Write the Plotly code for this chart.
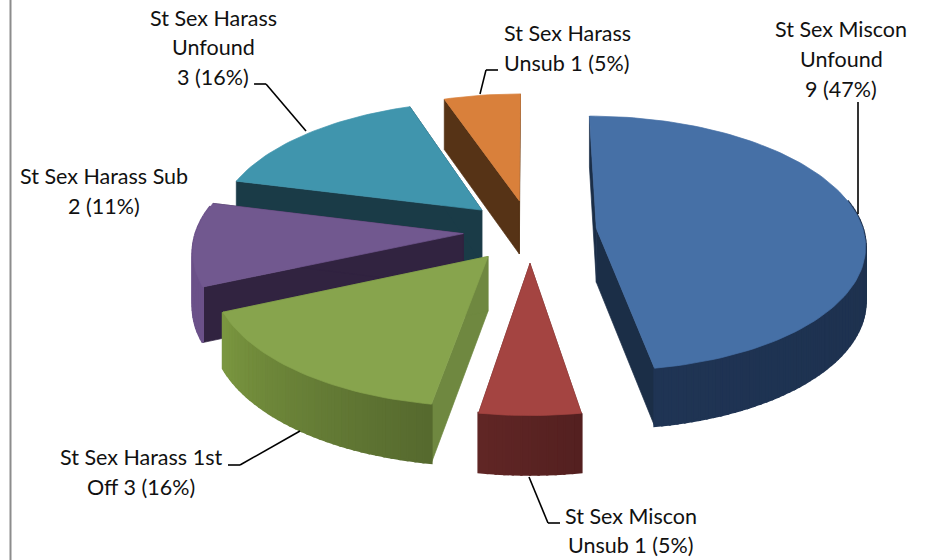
import math
import plotly.graph_objects as go

# ---- data, clockwise from twelve o'clock ----
categories = ["St Sex Miscon Unfound", "St Sex Miscon Unsub", "St Sex Harass 1st Off",
              "St Sex Harass Sub", "St Sex Harass Unfound", "St Sex Harass Unsub"]
values = [9, 1, 3, 2, 3, 1]
label_lines = [
    ["St Sex Miscon", "Unfound", "9 (47%)"],
    ["St Sex Miscon", "Unsub 1 (5%)"],
    ["St Sex Harass 1st", "Off 3 (16%)"],
    ["St Sex Harass Sub", "2 (11%)"],
    ["St Sex Harass", "Unfound", "3 (16%)"],
    ["St Sex Harass", "Unsub 1 (5%)"],
]

# ---- styles ----
top_colors = ["#4670A6", "#A44441", "#87A44D", "#71588F", "#4095AD", "#D9803B"]
cut_colors = ["#1B2E47", "#5E2423", "#6F8840", "#312340", "#1A3B47", "#563316"]
wall_from = ["#1B2D46", "#532020", "#56692E", "#6B5189", "#1A3B47", "#563316"]
wall_to = ["#1F3454", "#612625", "#7A9740", "#6B5189", "#1A3B47", "#563316"]
label_x = [841, 631, 141, 104, 213, 567]
label_y = [[29, 59, 89], [516, 545], [457, 487], [176, 206], [18, 47, 77], [33, 63]]
leaders = [
    [(858, 102), (858, 214)],
    [(529, 477), (548, 523), (560, 523)],
    [(228, 465), (240, 465), (300, 431)],
    [],
    [(254, 84), (266, 84), (306, 131)],
    [(498, 70), (486, 70), (480, 94)],
]

# ---- projection of the tilted, exploded pie ----
CX, CY, R, TILT, EXPLODE, PERSP, DEPTH = 530, 231, 267, 0.472, 0.25, 0.117, 54


def project(u, v, z=0.0):
    s = 1 / (1 - PERSP * v)
    return CX + R * u * s, CY + R * TILT * v * s + DEPTH * (1 + (s - 1) * 0.55) * z


def mix(a, b, t):
    ca = [int(a[i:i + 2], 16) for i in (1, 3, 5)]
    cb = [int(b[i:i + 2], 16) for i in (1, 3, 5)]
    return "rgb(%d,%d,%d)" % tuple(round(x + (y - x) * t) for x, y in zip(ca, cb))


total = sum(values)
spans = []
acc = 0.0
for val in values:
    spans.append((acc, acc + val / total * 360))
    acc += val / total * 360

fig = go.Figure()


def poly(points, color, name, width=0.7):
    xs = [p[0] for p in points] + [points[0][0]]
    ys = [p[1] for p in points] + [points[0][1]]
    fig.add_trace(go.Scatter(x=xs, y=ys, mode="lines", fill="toself", fillcolor=color,
                             line=dict(color=color, width=width), hoverinfo="text",
                             text=name, showlegend=False))


def mid_depth(i):
    return -math.cos(math.radians(sum(spans[i]) / 2))


for i in sorted(range(len(values)), key=mid_depth):
    a0, a1 = spans[i]
    mid = math.radians((a0 + a1) / 2)
    ou, ov = EXPLODE * math.sin(mid), -EXPLODE * math.cos(mid)
    n = max(3, int((a1 - a0) / 1.5))
    angles = [math.radians(a0 + (a1 - a0) * j / n) for j in range(n + 1)]
    rim = [(ou + math.sin(a), ov - math.cos(a)) for a in angles]
    name = f"{categories[i]}: {values[i]}"
    # radial cut faces
    for (ru, rv) in (rim[0], rim[-1]):
        poly([project(ou, ov), project(ru, rv), project(ru, rv, 1), project(ou, ov, 1)],
             cut_colors[i], name)
    # outer wall, strip by strip, with its shading
    for j in range(n):
        if -math.cos(angles[j]) < -0.2 and -math.cos(angles[j + 1]) < -0.2:
            continue
        (u0, v0), (u1, v1) = rim[j], rim[j + 1]
        poly([project(u0, v0), project(u1, v1), project(u1, v1, 1), project(u0, v0, 1)],
             mix(wall_from[i], wall_to[i], (j + 0.5) / n), name, width=2.4)
    # top face
    poly([project(ou, ov)] + [project(u, v) for u, v in rim], top_colors[i], name)

shapes = [dict(type="line", xref="x", yref="y", x0=10.5, x1=10.5, y0=0, y1=560,
               line=dict(color="#8C8C8C", width=2))]
for path in leaders:
    for (x0, y0), (x1, y1) in zip(path, path[1:]):
        shapes.append(dict(type="line", xref="x", yref="y", x0=x0, y0=y0, x1=x1, y1=y1,
                           line=dict(color="#000000", width=1.6)))

annotations = []
for lines, x, ys in zip(label_lines, label_x, label_y):
    for line, y in zip(lines, ys):
        annotations.append(dict(x=x, y=y, xref="x", yref="y", text=line, showarrow=False,
                                xanchor="center", yanchor="middle",
                                font=dict(family="Lato", size=21.5, color="#111111")))

fig.update_layout(
    width=933, height=560, margin=dict(l=0, r=0, t=0, b=0),
    paper_bgcolor="white", plot_bgcolor="white", showlegend=False,
    xaxis=dict(range=[0, 933], visible=False, fixedrange=True),
    yaxis=dict(range=[560, 0], visible=False, fixedrange=True),
    shapes=shapes, annotations=annotations,
)
fig.write_html("out.html", config={"displayModeBar": False},
               post_script="document.body.style.margin='0';document.body.style.overflow='hidden';")
